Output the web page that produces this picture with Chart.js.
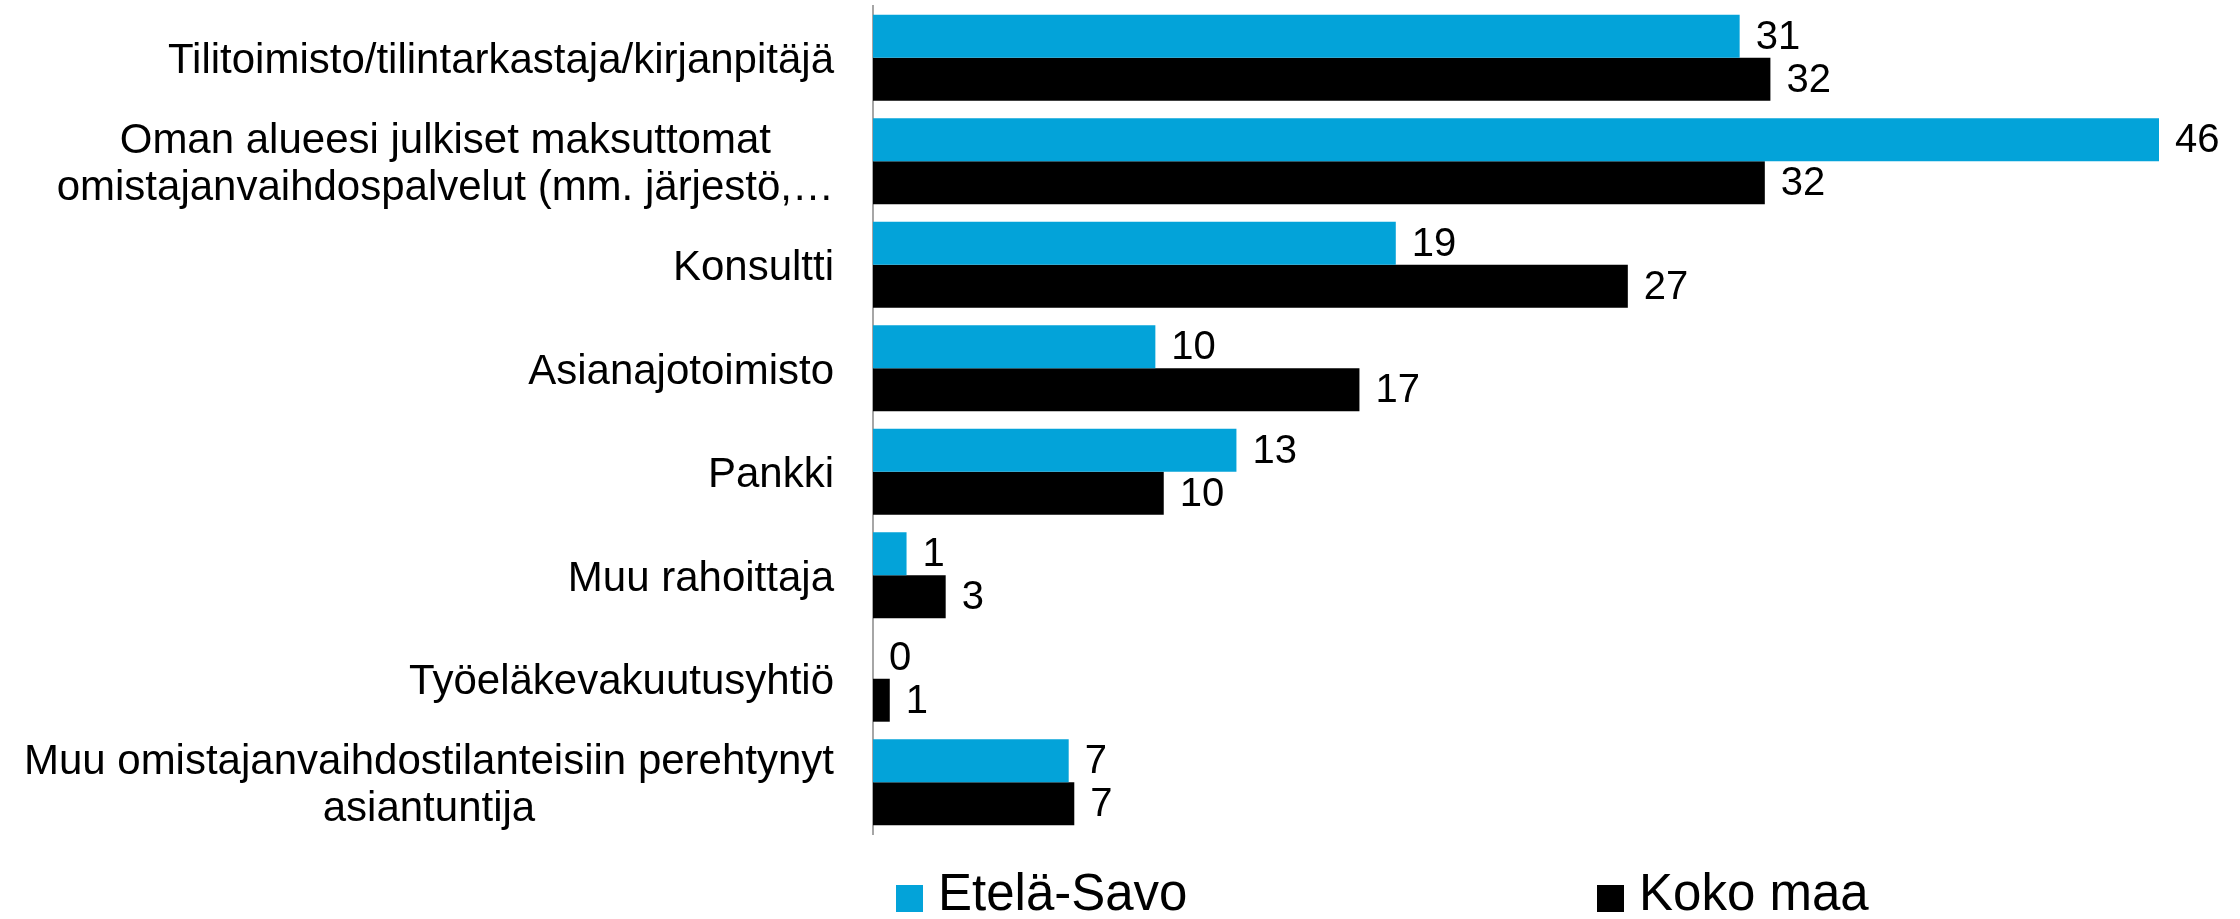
<!DOCTYPE html>
<html><head><meta charset="utf-8">
<script src="https://cdn.jsdelivr.net/npm/chart.js@4.4.1/dist/chart.umd.min.js"></script>
<style>html,body{margin:0;padding:0;background:#fff;} canvas{display:block;}</style>
</head><body>
<canvas id="c" width="2240" height="919"></canvas>
<script>
// ---- data ----
const categories = [
  'Tilitoimisto/tilintarkastaja/kirjanpitäjä',
  ['Oman alueesi julkiset maksuttomat', 'omistajanvaihdospalvelut (mm. järjestö,…'],
  'Konsultti',
  'Asianajotoimisto',
  'Pankki',
  'Muu rahoittaja',
  'Työeläkevakuutusyhtiö',
  ['Muu omistajanvaihdostilanteisiin perehtynyt', 'asiantuntija']
];
const seriesNames = ['Etelä-Savo', 'Koko maa'];
const etelaSavo = [31.0, 46.0, 18.7, 10.1, 13.0, 1.2, 0.0, 7.0];
const kokoMaa   = [32.1, 31.9, 27.0, 17.4, 10.4, 2.6, 0.6, 7.2];
const xMin = 0, xMax = 46;

// ---- styling ----
const FONT = '"Liberation Sans", Arial, sans-serif';
const colors = ['#03A3D9', '#000000'];

const valueLabels = {
  id: 'valueLabels',
  afterDatasetsDraw(chart, args, opts) {
    const ctx = chart.ctx;
    ctx.save();
    ctx.font = opts.size + 'px ' + FONT;
    ctx.fillStyle = '#000';
    ctx.textAlign = 'left';
    ctx.textBaseline = 'middle';
    chart.data.datasets.forEach((ds, i) => {
      chart.getDatasetMeta(i).data.forEach((bar, j) => {
        ctx.fillText(String(Math.round(ds.data[j])), bar.x + opts.gap, bar.y + 1.5);
      });
    });
    ctx.restore();
  }
};

const centerMultiline = {
  id: 'centerMultiline',
  beforeDraw(chart) {
    const sc = chart.scales.y;
    const items = sc.getLabelItems();
    const ctx = chart.ctx;
    items.forEach(it => {
      if (Array.isArray(it.label) && !it._centered) {
        ctx.save();
        ctx.font = it.font.string;
        const w = Math.max(...it.label.map(l => ctx.measureText(l).width));
        ctx.restore();
        it.options.textAlign = 'center';
        it.options.translation = [it.options.translation[0] - w / 2, it.options.translation[1]];
        it._centered = true;
      }
    });
  }
};

const customLegend = {
  id: 'customLegend',
  afterDraw(chart, args, opts) {
    const ctx = chart.ctx;
    ctx.save();
    ctx.font = opts.size + 'px ' + FONT;
    ctx.textBaseline = 'middle';
    ctx.textAlign = 'left';
    chart.data.datasets.forEach((ds, i) => {
      const x = opts.x[i];
      ctx.fillStyle = ds.backgroundColor;
      ctx.fillRect(x, opts.boxTop, opts.box, opts.box);
      ctx.fillStyle = '#000';
      ctx.fillText(ds.label, x + opts.box + opts.gap, opts.textY);
    });
    ctx.restore();
  }
};

new Chart(document.getElementById('c'), {
  type: 'bar',
  data: {
    labels: categories,
    datasets: [
      { label: seriesNames[0], data: etelaSavo, backgroundColor: colors[0] },
      { label: seriesNames[1], data: kokoMaa, backgroundColor: colors[1] }
    ]
  },
  options: {
    indexAxis: 'y',
    responsive: false,
    animation: false,
    events: [],
    categoryPercentage: 0.83,
    barPercentage: 1.0,
    layout: { padding: { top: 6, right: 81, bottom: 85, left: 0 } },
    scales: {
      x: { display: false, min: xMin, max: xMax },
      y: {
        grid: { display: false, drawTicks: false },
        border: { display: true, color: '#a6a6a6', width: 2 },
        ticks: {
          autoSkip: false,
          color: '#000',
          padding: 39,
          labelOffset: 4,
          font: { size: 42, family: FONT, lineHeight: 1.12 }
        },
        afterFit(s) {
          s.width = 873;
          s.paddingTop = 0; s.paddingBottom = 0; s.paddingLeft = 0; s.paddingRight = 0;
        }
      }
    },
    plugins: {
      legend: { display: false },
      tooltip: { enabled: false },
      valueLabels: { size: 40, gap: 16 },
      customLegend: { size: 51, x: [896, 1597], boxTop: 885, box: 27, gap: 15, textY: 896 }
    }
  },
  plugins: [centerMultiline, valueLabels, customLegend]
});
</script>
</body></html>
